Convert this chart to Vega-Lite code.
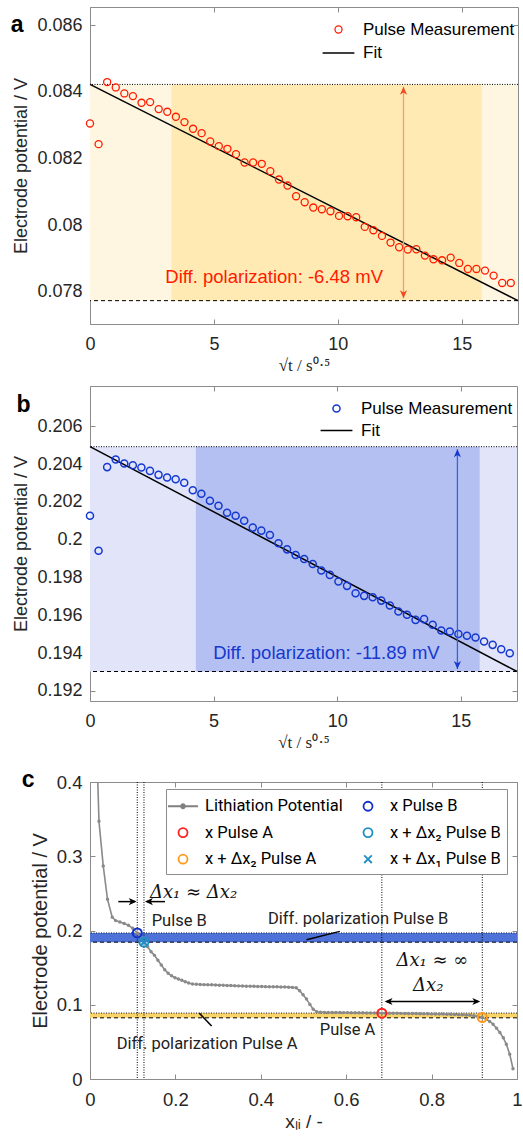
{
  "$schema": "https://vega.github.io/schema/vega-lite/v6.json",
  "padding": {"left": 10, "top": 6, "right": 4, "bottom": 0},
  "spacing": 17,
  "background": "white",
  "resolve": {"scale": {"color": "independent", "shape": "independent"}, "legend": {"color": "independent", "shape": "independent"}},
  "config": {
    "view": {"stroke": "#8c8c8c", "strokeWidth": 1},
    "axis": {"grid": false, "domain": false, "ticks": true, "tickColor": "#8c8c8c", "tickSize": -5, "labelColor": "#262626", "titleColor": "#262626", "labelFont": "Liberation Sans", "titleFont": "Liberation Sans", "titleFontWeight": "normal", "labelFontSize": 18, "titleFontSize": 18, "labelFlush": false, "labelOverlap": false},
    "text": {"font": "Liberation Sans"}
  },
  "datasets": {
    "measA": [
      {"t":0,"v":0.08305},{"t":0.3465,"v":0.08243},{"t":0.693,"v":0.08429},{"t":1.0395,"v":0.08413},{"t":1.386,"v":0.08395},{"t":1.7325,"v":0.08387},{"t":2.079,"v":0.08367},{"t":2.4255,"v":0.08369},{"t":2.772,"v":0.08348},{"t":3.1185,"v":0.0834},
      {"t":3.465,"v":0.08325},{"t":3.8115,"v":0.08309},{"t":4.158,"v":0.08289},{"t":4.5045,"v":0.08276},{"t":4.851,"v":0.08251},{"t":5.1975,"v":0.08237},{"t":5.544,"v":0.08229},{"t":5.8905,"v":0.08213},{"t":6.237,"v":0.08188},{"t":6.5835,"v":0.08188},
      {"t":6.93,"v":0.08184},{"t":7.2765,"v":0.08162},{"t":7.623,"v":0.08137},{"t":7.9695,"v":0.08119},{"t":8.316,"v":0.08087},{"t":8.6625,"v":0.08069},{"t":9.009,"v":0.08053},{"t":9.3555,"v":0.08048},{"t":9.702,"v":0.08042},{"t":10.0485,"v":0.08028},
      {"t":10.395,"v":0.08027},{"t":10.7415,"v":0.08024},{"t":11.088,"v":0.07995},{"t":11.4345,"v":0.07985},{"t":11.781,"v":0.07968},{"t":12.1275,"v":0.07948},{"t":12.474,"v":0.07934},{"t":12.8205,"v":0.07927},{"t":13.167,"v":0.07928},{"t":13.5135,"v":0.07909},
      {"t":13.86,"v":0.07898},{"t":14.2065,"v":0.07895},{"t":14.553,"v":0.07903},{"t":14.8995,"v":0.07887},{"t":15.246,"v":0.07869},{"t":15.5925,"v":0.07869},{"t":15.939,"v":0.07864},{"t":16.2855,"v":0.07849},{"t":16.632,"v":0.07827},{"t":16.9785,"v":0.07827}
    ],
    "measB": [
      {"t":0,"v":0.20127},{"t":0.3465,"v":0.19942},{"t":0.693,"v":0.20384},{"t":1.0395,"v":0.20424},{"t":1.386,"v":0.20403},{"t":1.7325,"v":0.20394},{"t":2.079,"v":0.20382},{"t":2.4255,"v":0.20364},{"t":2.772,"v":0.20343},{"t":3.1185,"v":0.20329},
      {"t":3.465,"v":0.2032},{"t":3.8115,"v":0.20301},{"t":4.158,"v":0.20262},{"t":4.5045,"v":0.20243},{"t":4.851,"v":0.20206},{"t":5.1975,"v":0.2018},{"t":5.544,"v":0.20143},{"t":5.8905,"v":0.20127},{"t":6.237,"v":0.201},{"t":6.5835,"v":0.20064},
      {"t":6.93,"v":0.20048},{"t":7.2765,"v":0.20025},{"t":7.623,"v":0.19981},{"t":7.9695,"v":0.19949},{"t":8.316,"v":0.19919},{"t":8.6625,"v":0.19898},{"t":9.009,"v":0.19872},{"t":9.3555,"v":0.19837},{"t":9.702,"v":0.19814},{"t":10.0485,"v":0.19779},
      {"t":10.395,"v":0.19756},{"t":10.7415,"v":0.19717},{"t":11.088,"v":0.19703},{"t":11.4345,"v":0.19696},{"t":11.781,"v":0.19678},{"t":12.1275,"v":0.19652},{"t":12.474,"v":0.1962},{"t":12.8205,"v":0.19603},{"t":13.167,"v":0.19576},{"t":13.5135,"v":0.1958},
      {"t":13.86,"v":0.1955},{"t":14.2065,"v":0.1952},{"t":14.553,"v":0.19515},{"t":14.8995,"v":0.19501},{"t":15.246,"v":0.19492},{"t":15.5925,"v":0.19483},{"t":15.939,"v":0.19462},{"t":16.2855,"v":0.19444},{"t":16.632,"v":0.19421},{"t":16.9785,"v":0.194}
    ],
    "lith": [
      {"x":0.0105,"v":0.55},{"x":0.021,"v":0.347},{"x":0.031,"v":0.287},{"x":0.041,"v":0.242},{"x":0.052,"v":0.218},{"x":0.06,"v":0.2133},{"x":0.07,"v":0.2115},{"x":0.08,"v":0.2095},{"x":0.09,"v":0.207},{"x":0.1,"v":0.203},
      {"x":0.1107,"v":0.1967},{"x":0.12,"v":0.19},{"x":0.1264,"v":0.1843},{"x":0.135,"v":0.178},{"x":0.143,"v":0.1715},{"x":0.151,"v":0.1665},{"x":0.159,"v":0.16},{"x":0.167,"v":0.1535},{"x":0.175,"v":0.147},{"x":0.183,"v":0.1425},
      {"x":0.191,"v":0.139},{"x":0.199,"v":0.1365},{"x":0.207,"v":0.1348},{"x":0.215,"v":0.133},{"x":0.223,"v":0.131},{"x":0.231,"v":0.1293},{"x":0.24,"v":0.128},{"x":0.249,"v":0.1276},{"x":0.258,"v":0.1273},{"x":0.267,"v":0.1271},
      {"x":0.276,"v":0.1269},{"x":0.285,"v":0.1268},{"x":0.294,"v":0.1266},{"x":0.303,"v":0.1264},{"x":0.312,"v":0.1262},{"x":0.321,"v":0.126},{"x":0.33,"v":0.1258},{"x":0.339,"v":0.1256},{"x":0.348,"v":0.1254},{"x":0.357,"v":0.1252},
      {"x":0.366,"v":0.125},{"x":0.375,"v":0.1249},{"x":0.384,"v":0.1248},{"x":0.393,"v":0.1246},{"x":0.402,"v":0.1245},{"x":0.411,"v":0.1244},{"x":0.42,"v":0.1243},{"x":0.429,"v":0.1242},{"x":0.438,"v":0.1241},{"x":0.447,"v":0.124},
      {"x":0.456,"v":0.1239},{"x":0.465,"v":0.1237},{"x":0.474,"v":0.1234},{"x":0.483,"v":0.1228},{"x":0.491,"v":0.1188},{"x":0.499,"v":0.1135},{"x":0.507,"v":0.1076},{"x":0.515,"v":0.1005},{"x":0.5226,"v":0.094},{"x":0.531,"v":0.0905},
      {"x":0.54,"v":0.0898},{"x":0.549,"v":0.0897},{"x":0.558,"v":0.0896},{"x":0.567,"v":0.0896},{"x":0.576,"v":0.0895},{"x":0.585,"v":0.0895},{"x":0.594,"v":0.0894},{"x":0.603,"v":0.0894},{"x":0.612,"v":0.0893},{"x":0.621,"v":0.0892},
      {"x":0.63,"v":0.0892},{"x":0.639,"v":0.0891},{"x":0.648,"v":0.089},{"x":0.657,"v":0.089},{"x":0.666,"v":0.0889},{"x":0.675,"v":0.0888},{"x":0.6835,"v":0.0887},{"x":0.692,"v":0.0887},{"x":0.701,"v":0.0886},{"x":0.71,"v":0.0885},
      {"x":0.719,"v":0.0885},{"x":0.728,"v":0.0884},{"x":0.737,"v":0.0883},{"x":0.746,"v":0.0882},{"x":0.755,"v":0.0882},{"x":0.764,"v":0.0881},{"x":0.773,"v":0.088},{"x":0.782,"v":0.0879},{"x":0.791,"v":0.0878},{"x":0.8,"v":0.0877},
      {"x":0.809,"v":0.0876},{"x":0.818,"v":0.0875},{"x":0.827,"v":0.0874},{"x":0.836,"v":0.0872},{"x":0.845,"v":0.0871},{"x":0.854,"v":0.0869},{"x":0.863,"v":0.0867},{"x":0.872,"v":0.0865},{"x":0.881,"v":0.0862},{"x":0.89,"v":0.0858},
      {"x":0.899,"v":0.0852},{"x":0.908,"v":0.0843},{"x":0.9187,"v":0.0828},{"x":0.928,"v":0.0805},{"x":0.936,"v":0.0775},{"x":0.944,"v":0.0738},{"x":0.952,"v":0.0685},{"x":0.96,"v":0.0626},{"x":0.968,"v":0.0555},{"x":0.975,"v":0.0468},
      {"x":0.983,"v":0.0333},{"x":0.9906,"v":0.0139}
    ]
  },
  "vconcat": [
    {
      "spacing": 11,
      "resolve": {"scale": {"color": "independent", "shape": "independent"}, "legend": {"color": "independent", "shape": "independent"}},
      "vconcat": [
        {
          "width": 428,
          "height": 317,
          "resolve": {"axis": {"x": "independent", "y": "independent"}},
          "layer": [
            {
              "data": {"values": [{"x0": 0, "x1": 17.27, "y0": 0.07774, "y1": 0.08422}]},
              "mark": {"type": "rect", "color": "#fff6e2"},
              "encoding": {
                "x": {"field": "x0", "type": "quantitative", "scale": {"domain": [0, 17.27], "nice": false, "zero": false},
                      "axis": {"orient": "bottom", "values": [0, 5, 10, 15], "format": "d", "labelPadding": 16, "title": "√t / s⁰·⁵", "titleFont": "Liberation Serif", "titleFontSize": 17, "titlePadding": 4}},
                "x2": {"field": "x1"},
                "y": {"field": "y0", "type": "quantitative", "scale": {"domain": [0.07704, 0.08654], "nice": false, "zero": false},
                      "axis": {"orient": "left", "values": [0.078, 0.08, 0.082, 0.084, 0.086], "format": ".3~f", "labelPadding": 13, "title": "Electrode potential / V", "titlePadding": 6}},
                "y2": {"field": "y1"}
              }
            },
            {
              "data": {"values": [{"x0": 3.29, "x1": 15.81, "y0": 0.07774, "y1": 0.08422}]},
              "mark": {"type": "rect", "color": "#ffeab3"},
              "encoding": {
                "x": {"field": "x0", "type": "quantitative", "axis": null},
                "x2": {"field": "x1"},
                "y": {"field": "y0", "type": "quantitative", "axis": null},
                "y2": {"field": "y1"}
              }
            },
            {
              "data": {"values": [{"v": 0.08422}]},
              "mark": {"type": "rule", "color": "#000000", "strokeDash": [1, 1.5], "strokeWidth": 1},
              "encoding": {"y": {"field": "v", "type": "quantitative", "axis": null}}
            },
            {
              "data": {"values": [{"v": 0.07774}]},
              "mark": {"type": "rule", "color": "#000000", "strokeDash": [4, 3], "strokeWidth": 1},
              "encoding": {"y": {"field": "v", "type": "quantitative", "axis": null}}
            },
            {
              "data": {"values": [{"t": 0, "v": 0.08422}, {"t": 17.27, "v": 0.07774}]},
              "mark": {"type": "line", "color": "#000000", "strokeWidth": 1.5},
              "encoding": {
                "x": {"field": "t", "type": "quantitative", "axis": {"orient": "top", "values": [0, 5, 10, 15], "labels": false, "title": null}},
                "y": {"field": "v", "type": "quantitative", "axis": {"orient": "right", "values": [0.078, 0.08, 0.082, 0.084, 0.086], "labels": false, "title": null}}
              }
            },
            {
              "data": {"name": "measA"},
              "transform": [{"calculate": "'Pulse Measurement'", "as": "series"}],
              "mark": {"type": "point", "filled": false, "size": 50, "strokeWidth": 1.3, "opacity": 1},
              "encoding": {
                "x": {"field": "t", "type": "quantitative", "axis": null},
                "y": {"field": "v", "type": "quantitative", "axis": null},
                "color": {"field": "series", "type": "nominal", "scale": {"domain": ["Pulse Measurement", "Fit"], "range": ["#ff1a00", "#000000"]},
                          "legend": {"orient": "none", "legendX": 240, "legendY": 14, "title": null, "labelFont": "Liberation Sans", "labelFontSize": 17, "labelColor": "#000000", "rowPadding": 5.5, "padding": 0, "labelOffset": 16, "symbolSize": 50, "symbolStrokeWidth": 1.3}},
                "shape": {"field": "series", "type": "nominal", "scale": {"domain": ["Pulse Measurement", "Fit"], "range": ["circle", "M-4.5,0L4.5,0"]},
                          "legend": {"orient": "none", "legendX": 240, "legendY": 14, "title": null, "labelFont": "Liberation Sans", "labelFontSize": 17, "labelColor": "#000000", "rowPadding": 5.5, "padding": 0, "labelOffset": 16, "symbolSize": 50, "symbolStrokeWidth": 1.3}}
              }
            },
            {
              "data": {"values": [{"x": 12.65, "y0": 0.07781, "y1": 0.08415}]},
              "mark": {"type": "rule", "color": "#f39a78", "strokeWidth": 1.3},
              "encoding": {
                "x": {"field": "x", "type": "quantitative", "axis": null},
                "y": {"field": "y0", "type": "quantitative", "axis": null},
                "y2": {"field": "y1"}
              }
            },
            {
              "data": {"values": [{"x": 12.65, "y": 0.08415}]},
              "mark": {"type": "point", "filled": true, "size": 52, "color": "#f04a20", "opacity": 1, "shape": "M0,0L-1,2.2L0,1.6L1,2.2Z"},
              "encoding": {
                "x": {"field": "x", "type": "quantitative", "axis": null},
                "y": {"field": "y", "type": "quantitative", "axis": null}
              }
            },
            {
              "data": {"values": [{"x": 12.65, "y": 0.07781}]},
              "mark": {"type": "point", "filled": true, "size": 52, "color": "#f04a20", "opacity": 1, "shape": "M0,0L-1,-2.2L0,-1.6L1,-2.2Z"},
              "encoding": {
                "x": {"field": "x", "type": "quantitative", "axis": null},
                "y": {"field": "y", "type": "quantitative", "axis": null}
              }
            },
            {
              "data": {"values": [{"x": 3.04, "y": 0.07845, "label": "Diff. polarization: -6.48 mV"}]},
              "mark": {"type": "text", "align": "left", "baseline": "middle", "font": "Liberation Sans", "fontSize": 18.5, "color": "#ff1a00"},
              "encoding": {
                "x": {"field": "x", "type": "quantitative", "axis": null},
                "y": {"field": "y", "type": "quantitative", "axis": null},
                "text": {"field": "label"}
              }
            },
            {
              "data": {"values": [{"x": -3.2, "y": 0.08579, "label": "a"}]},
              "mark": {"type": "text", "align": "left", "baseline": "alphabetic", "font": "Liberation Sans", "fontSize": 23, "fontWeight": "bold", "color": "#000000"},
              "encoding": {
                "x": {"field": "x", "type": "quantitative", "axis": null},
                "y": {"field": "y", "type": "quantitative", "axis": null},
                "text": {"field": "label"}
              }
            }
          ]
        },
        {
          "width": 427,
          "height": 315,
          "resolve": {"axis": {"x": "independent", "y": "independent"}},
          "layer": [
            {
              "data": {"values": [{"x0": 0, "x1": 17.27, "y0": 0.19303, "y1": 0.20492}]},
              "mark": {"type": "rect", "color": "#e2e5fa"},
              "encoding": {
                "x": {"field": "x0", "type": "quantitative", "scale": {"domain": [0, 17.27], "nice": false, "zero": false},
                      "axis": {"orient": "bottom", "values": [0, 5, 10, 15], "format": "d", "labelPadding": 16, "title": "√t / s⁰·⁵", "titleFont": "Liberation Serif", "titleFontSize": 17, "titlePadding": 4}},
                "x2": {"field": "x1"},
                "y": {"field": "y0", "type": "quantitative", "scale": {"domain": [0.19147, 0.20813], "nice": false, "zero": false},
                      "axis": {"orient": "left", "values": [0.192, 0.194, 0.196, 0.198, 0.2, 0.202, 0.204, 0.206], "format": ".3~f", "labelPadding": 13, "title": "Electrode potential / V", "titlePadding": 6}},
                "y2": {"field": "y1"}
              }
            },
            {
              "data": {"values": [{"x0": 4.28, "x1": 15.76, "y0": 0.19303, "y1": 0.20492}]},
              "mark": {"type": "rect", "color": "#b4c0f2"},
              "encoding": {
                "x": {"field": "x0", "type": "quantitative", "axis": null},
                "x2": {"field": "x1"},
                "y": {"field": "y0", "type": "quantitative", "axis": null},
                "y2": {"field": "y1"}
              }
            },
            {
              "data": {"values": [{"v": 0.20492}]},
              "mark": {"type": "rule", "color": "#000000", "strokeDash": [1, 1.5], "strokeWidth": 1},
              "encoding": {"y": {"field": "v", "type": "quantitative", "axis": null}}
            },
            {
              "data": {"values": [{"v": 0.19303}]},
              "mark": {"type": "rule", "color": "#000000", "strokeDash": [4, 3], "strokeWidth": 1},
              "encoding": {"y": {"field": "v", "type": "quantitative", "axis": null}}
            },
            {
              "data": {"values": [{"t": 0, "v": 0.20492}, {"t": 17.27, "v": 0.19303}]},
              "mark": {"type": "line", "color": "#000000", "strokeWidth": 1.5},
              "encoding": {
                "x": {"field": "t", "type": "quantitative", "axis": {"orient": "top", "values": [0, 5, 10, 15], "labels": false, "title": null}},
                "y": {"field": "v", "type": "quantitative", "axis": {"orient": "right", "values": [0.192, 0.194, 0.196, 0.198, 0.2, 0.202, 0.204, 0.206], "labels": false, "title": null}}
              }
            },
            {
              "data": {"name": "measB"},
              "transform": [{"calculate": "'Pulse Measurement'", "as": "series"}],
              "mark": {"type": "point", "filled": false, "size": 50, "strokeWidth": 1.5, "opacity": 1},
              "encoding": {
                "x": {"field": "t", "type": "quantitative", "axis": null},
                "y": {"field": "v", "type": "quantitative", "axis": null},
                "color": {"field": "series", "type": "nominal", "scale": {"domain": ["Pulse Measurement", "Fit"], "range": ["#1438d0", "#000000"]},
                          "legend": {"orient": "none", "legendX": 238, "legendY": 14, "title": null, "labelFont": "Liberation Sans", "labelFontSize": 17, "labelColor": "#000000", "rowPadding": 4, "padding": 0, "labelOffset": 16, "symbolSize": 50, "symbolStrokeWidth": 1.5}},
                "shape": {"field": "series", "type": "nominal", "scale": {"domain": ["Pulse Measurement", "Fit"], "range": ["circle", "M-4.5,0L4.5,0"]},
                          "legend": {"orient": "none", "legendX": 238, "legendY": 14, "title": null, "labelFont": "Liberation Sans", "labelFontSize": 17, "labelColor": "#000000", "rowPadding": 4, "padding": 0, "labelOffset": 16, "symbolSize": 50, "symbolStrokeWidth": 1.5}}
              }
            },
            {
              "data": {"values": [{"x": 14.86, "y0": 0.19316, "y1": 0.20478}]},
              "mark": {"type": "rule", "color": "#3a62d8", "strokeWidth": 1.3},
              "encoding": {
                "x": {"field": "x", "type": "quantitative", "axis": null},
                "y": {"field": "y0", "type": "quantitative", "axis": null},
                "y2": {"field": "y1"}
              }
            },
            {
              "data": {"values": [{"x": 14.86, "y": 0.20478}]},
              "mark": {"type": "point", "filled": true, "size": 52, "color": "#1438d0", "opacity": 1, "shape": "M0,0L-1,2.2L0,1.6L1,2.2Z"},
              "encoding": {
                "x": {"field": "x", "type": "quantitative", "axis": null},
                "y": {"field": "y", "type": "quantitative", "axis": null}
              }
            },
            {
              "data": {"values": [{"x": 14.86, "y": 0.19316}]},
              "mark": {"type": "point", "filled": true, "size": 52, "color": "#1438d0", "opacity": 1, "shape": "M0,0L-1,-2.2L0,-1.6L1,-2.2Z"},
              "encoding": {
                "x": {"field": "x", "type": "quantitative", "axis": null},
                "y": {"field": "y", "type": "quantitative", "axis": null}
              }
            },
            {
              "data": {"values": [{"x": 4.98, "y": 0.194, "label": "Diff. polarization: -11.89 mV"}]},
              "mark": {"type": "text", "align": "left", "baseline": "middle", "font": "Liberation Sans", "fontSize": 18.5, "color": "#1438d0"},
              "encoding": {
                "x": {"field": "x", "type": "quantitative", "axis": null},
                "y": {"field": "y", "type": "quantitative", "axis": null},
                "text": {"field": "label"}
              }
            },
            {
              "data": {"values": [{"x": -2.97, "y": 0.20675, "label": "b"}]},
              "mark": {"type": "text", "align": "left", "baseline": "alphabetic", "font": "Liberation Sans", "fontSize": 23, "fontWeight": "bold", "color": "#000000"},
              "encoding": {
                "x": {"field": "x", "type": "quantitative", "axis": null},
                "y": {"field": "y", "type": "quantitative", "axis": null},
                "text": {"field": "label"}
              }
            }
          ]
        }
      ]
    },
    {
      "width": 427,
      "height": 297,
      "resolve": {"axis": {"x": "independent", "y": "independent"}},
      "layer": [
        {
          "data": {"values": [{"x0": 0, "x1": 1, "y0": 0.0824, "y1": 0.0888}]},
          "mark": {"type": "rect", "color": "#f9d46b"},
          "encoding": {
            "x": {"field": "x0", "type": "quantitative", "scale": {"domain": [0, 1], "nice": false, "zero": false},
                  "axis": {"orient": "bottom", "values": [0, 0.2, 0.4, 0.6, 0.8, 1], "format": ".1~f", "labelFontSize": 18.5, "labelPadding": 16, "title": "xₗᵢ / -", "titleFontSize": 19, "titlePadding": 4}},
            "x2": {"field": "x1"},
            "y": {"field": "y0", "type": "quantitative", "scale": {"domain": [0, 0.4], "nice": false, "zero": false},
                  "axis": {"orient": "left", "values": [0, 0.1, 0.2, 0.3, 0.4], "format": ".1~f", "labelFontSize": 18.5, "labelPadding": 13, "title": "Electrode potential / V", "titleFontSize": 20, "titlePadding": 6}},
            "y2": {"field": "y1"}
          }
        },
        {
          "data": {"values": [{"x0": 0, "x1": 1, "y0": 0.1843, "y1": 0.1967}]},
          "mark": {"type": "rect", "color": "#4f72d9"},
          "encoding": {
            "x": {"field": "x0", "type": "quantitative", "axis": null},
            "x2": {"field": "x1"},
            "y": {"field": "y0", "type": "quantitative", "axis": null},
            "y2": {"field": "y1"}
          }
        },
        {
          "data": {"values": [{"v": 0.0888}, {"v": 0.1967}]},
          "mark": {"type": "rule", "color": "#101830", "strokeDash": [1, 1.5], "strokeWidth": 1},
          "encoding": {"y": {"field": "v", "type": "quantitative", "axis": null}}
        },
        {
          "data": {"values": [{"v": 0.0824}, {"v": 0.1843}]},
          "mark": {"type": "rule", "color": "#000000", "strokeDash": [4, 3], "strokeWidth": 1},
          "encoding": {"y": {"field": "v", "type": "quantitative", "axis": null}}
        },
        {
          "data": {"values": [{"v": 0.1107}, {"v": 0.1264}, {"v": 0.6835}, {"v": 0.9187}]},
          "mark": {"type": "rule", "color": "#000000", "strokeDash": [1, 1.5], "strokeWidth": 1},
          "encoding": {"x": {"field": "v", "type": "quantitative", "axis": null}}
        },
        {
          "data": {"name": "lith"},
          "mark": {"type": "line", "color": "#8a8a8a", "strokeWidth": 1.6, "clip": true},
          "encoding": {
            "x": {"field": "x", "type": "quantitative", "axis": {"orient": "top", "values": [0, 0.2, 0.4, 0.6, 0.8, 1], "labels": false, "title": null}},
            "y": {"field": "v", "type": "quantitative", "axis": {"orient": "right", "values": [0, 0.1, 0.2, 0.3, 0.4], "labels": false, "title": null}}
          }
        },
        {
          "data": {"name": "lith"},
          "mark": {"type": "point", "filled": true, "size": 12, "color": "#8a8a8a", "opacity": 1, "clip": true},
          "encoding": {
            "x": {"field": "x", "type": "quantitative", "axis": null},
            "y": {"field": "v", "type": "quantitative", "axis": null}
          }
        },
        {
          "data": {"values": [
            {"x": 0.1107, "v": 0.1967, "s": "x Pulse B"},
            {"x": 0.1264, "v": 0.1843, "s": "x + Δx₂ Pulse B"},
            {"x": 0.1264, "v": 0.1843, "s": "x + Δx₁ Pulse B"},
            {"x": 0.6835, "v": 0.0887, "s": "x Pulse A"},
            {"x": 0.9187, "v": 0.0828, "s": "x + Δx₂ Pulse A"}
          ]},
          "mark": {"type": "point", "filled": false, "size": 400, "strokeWidth": 2, "opacity": 1},
          "encoding": {
            "x": {"field": "x", "type": "quantitative", "axis": null},
            "y": {"field": "v", "type": "quantitative", "axis": null},
            "color": {"field": "s", "type": "nominal",
                      "scale": {"domain": ["Lithiation Potential", "x Pulse A", "x + Δx₂ Pulse A", "x Pulse B", "x + Δx₂ Pulse B", "x + Δx₁ Pulse B"], "range": ["#808080", "#ff2020", "#ff9a1a", "#1030c8", "#1f8fc4", "#1f8fc4"]},
                      "legend": {"orient": "none", "legendX": 76, "legendY": 7, "title": null, "columns": 2, "columnPadding": 14, "rowPadding": 6.6, "padding": 6, "labelOffset": 11, "symbolSize": 400, "symbolStrokeWidth": 1.8, "labelFont": "Roboto", "labelFontSize": 16.5, "labelColor": "#000000", "strokeColor": "#8c8c8c", "fillColor": "#ffffff"}},
            "shape": {"field": "s", "type": "nominal",
                      "scale": {"domain": ["Lithiation Potential", "x Pulse A", "x + Δx₂ Pulse A", "x Pulse B", "x + Δx₂ Pulse B", "x + Δx₁ Pulse B"],
                                "range": ["M-1.5,0L1.5,0M0.2,0A0.2,0.2,0,1,1,-0.2,0A0.2,0.2,0,1,1,0.2,0Z", "M0.45,0A0.45,0.45,0,1,1,-0.45,0A0.45,0.45,0,1,1,0.45,0Z", "M0.45,0A0.45,0.45,0,1,1,-0.45,0A0.45,0.45,0,1,1,0.45,0Z", "M0.45,0A0.45,0.45,0,1,1,-0.45,0A0.45,0.45,0,1,1,0.45,0Z", "M0.45,0A0.45,0.45,0,1,1,-0.45,0A0.45,0.45,0,1,1,0.45,0Z", "M-0.38,-0.38L0.38,0.38M-0.38,0.38L0.38,-0.38"]},
                      "legend": {"orient": "none", "legendX": 76, "legendY": 7, "title": null, "columns": 2, "columnPadding": 14, "rowPadding": 6.6, "padding": 6, "labelOffset": 11, "symbolSize": 400, "symbolStrokeWidth": 1.8, "labelFont": "Roboto", "labelFontSize": 16.5, "labelColor": "#000000", "strokeColor": "#8c8c8c", "fillColor": "#ffffff"}}
          }
        },
        {
          "data": {"values": [{"x0": 0.0663, "x1": 0.105, "y": 0.2389}, {"x0": 0.133, "x1": 0.1755, "y": 0.2389}, {"x0": 0.695, "x1": 0.909, "y": 0.1044}]},
          "mark": {"type": "rule", "color": "#000000", "strokeWidth": 1.5},
          "encoding": {
            "x": {"field": "x0", "type": "quantitative", "axis": null},
            "x2": {"field": "x1"},
            "y": {"field": "y", "type": "quantitative", "axis": null}
          }
        },
        {
          "data": {"values": [{"x": 0.1093, "y": 0.2389}, {"x": 0.914, "y": 0.1044}]},
          "mark": {"type": "point", "filled": true, "size": 52, "color": "#000000", "opacity": 1, "shape": "M0,0L-2.2,-1L-1.6,0L-2.2,1Z"},
          "encoding": {
            "x": {"field": "x", "type": "quantitative", "axis": null},
            "y": {"field": "y", "type": "quantitative", "axis": null}
          }
        },
        {
          "data": {"values": [{"x": 0.1287, "y": 0.2389}, {"x": 0.69, "y": 0.1044}]},
          "mark": {"type": "point", "filled": true, "size": 52, "color": "#000000", "opacity": 1, "shape": "M0,0L2.2,-1L1.6,0L2.2,1Z"},
          "encoding": {
            "x": {"field": "x", "type": "quantitative", "axis": null},
            "y": {"field": "y", "type": "quantitative", "axis": null}
          }
        },
        {
          "data": {"values": [{"x0": 0.507, "y0": 0.1876, "x1": 0.585, "y1": 0.1988}, {"x0": 0.2558, "y0": 0.0887, "x1": 0.2848, "y1": 0.0715}]},
          "mark": {"type": "rule", "color": "#000000", "strokeWidth": 1.5},
          "encoding": {
            "x": {"field": "x0", "type": "quantitative", "axis": null},
            "x2": {"field": "x1"},
            "y": {"field": "y0", "type": "quantitative", "axis": null},
            "y2": {"field": "y1"}
          }
        },
        {
          "data": {"values": [
            {"x": 0.1444, "y": 0.213, "label": "Pulse B"},
            {"x": 0.4166, "y": 0.2156, "label": "Diff. polarization Pulse B"},
            {"x": 0.538, "y": 0.0657, "label": "Pulse A"},
            {"x": 0.0625, "y": 0.0477, "label": "Diff. polarization Pulse A"}
          ]},
          "mark": {"type": "text", "align": "left", "baseline": "middle", "font": "Roboto", "fontSize": 16.5, "color": "#222222"},
          "encoding": {
            "x": {"field": "x", "type": "quantitative", "axis": null},
            "y": {"field": "y", "type": "quantitative", "axis": null},
            "text": {"field": "label"}
          }
        },
        {
          "data": {"values": [
            {"x": 0.1404, "y": 0.2511, "label": "Δx₁ ≈ Δx₂"},
            {"x": 0.7177, "y": 0.1593, "label": "Δx₁ ≈ ∞"},
            {"x": 0.7566, "y": 0.1255, "label": "Δx₂"}
          ]},
          "mark": {"type": "text", "align": "left", "baseline": "middle", "font": "DejaVu Serif", "fontStyle": "italic", "fontSize": 18, "color": "#111111"},
          "encoding": {
            "x": {"field": "x", "type": "quantitative", "axis": null},
            "y": {"field": "y", "type": "quantitative", "axis": null},
            "text": {"field": "label"}
          }
        },
        {
          "data": {"values": [{"x": -0.16, "y": 0.3933, "label": "c"}]},
          "mark": {"type": "text", "align": "left", "baseline": "alphabetic", "font": "Liberation Sans", "fontSize": 23, "fontWeight": "bold", "color": "#000000"},
          "encoding": {
            "x": {"field": "x", "type": "quantitative", "axis": null},
            "y": {"field": "y", "type": "quantitative", "axis": null},
            "text": {"field": "label"}
          }
        }
      ]
    }
  ]
}
